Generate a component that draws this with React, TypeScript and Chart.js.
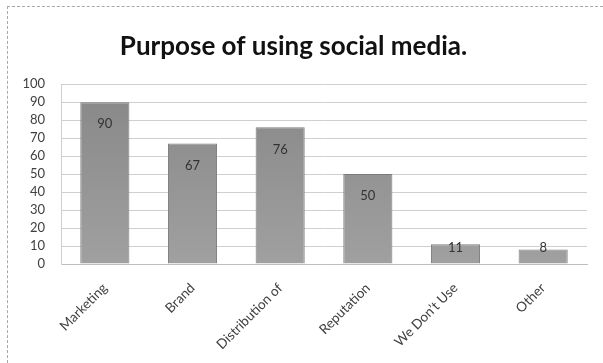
import React, { useEffect, useRef } from "react";
import { Chart, registerables } from "chart.js";

Chart.register(...registerables);

const categories = ["Marketing", "Brand", "Distribution of", "Reputation", "We Don\u2019t Use", "Other"];
const values = [90, 67, 76, 50, 11, 8];
const yTicks = [0, 10, 20, 30, 40, 50, 60, 70, 80, 90, 100];
const titleText = "Purpose of using social media.";

const FONT = "Lato, 'Open Sans', sans-serif";

const labelPlugin = {
  id: "insideEndLabels",
  afterDatasetsDraw(chart: any) {
    const ctx = chart.ctx;
    const meta = chart.getDatasetMeta(0);
    ctx.save();
    ctx.font = `13px ${FONT}`;
    ctx.fillStyle = "#333";
    ctx.textAlign = "center";
    ctx.textBaseline = "middle";
    meta.data.forEach((bar: any, i: number) => {
      const y = Math.min(bar.y + 22, bar.base - 16);
      ctx.fillText(String(values[i]), bar.x, y);
    });
    ctx.restore();
  },
};

export default function App() {
  const ref = useRef<HTMLCanvasElement>(null);
  useEffect(() => {
    document.body.style.margin = "0";
    const chart = new Chart(ref.current!, {
      type: "bar",
      data: {
        labels: categories,
        datasets: [
          {
            data: values,
            backgroundColor: (c: any) => {
              const area = c.chart.chartArea;
              if (!area) return "#8f8f8f";
              const g = c.chart.ctx.createLinearGradient(0, area.top, 0, area.bottom);
              g.addColorStop(0, "#878787");
              g.addColorStop(1, "#a0a0a0");
              return g;
            },
            borderColor: "#7c7c7c",
            borderWidth: 1,
            categoryPercentage: 1,
            barPercentage: 0.56,
          },
        ],
      },
      options: {
        animation: false,
        responsive: false,
        maintainAspectRatio: false,
        layout: { padding: { left: 0, right: 16, top: 0, bottom: 0 } },
        plugins: {
          legend: { display: false },
          tooltip: { enabled: false },
          title: {
            display: true,
            text: titleText,
            color: "#111",
            font: { family: FONT, size: 26, weight: "bold", lineHeight: 1.2 },
            padding: { top: 31, bottom: 22 },
          },
        },
        scales: {
          x: {
            grid: { display: false, drawTicks: false },
            border: { display: true, color: "#bdbdbd", width: 1 },
            ticks: {
              color: "#404040",
              font: { family: FONT, size: 13.5 },
              maxRotation: 45,
              minRotation: 45,
              padding: 16,
            },
            afterFit: (s: any) => {
              s.height = 99;
            },
          },
          y: {
            min: 0,
            max: 100,
            afterBuildTicks: (s: any) => {
              s.ticks = yTicks.map((v) => ({ value: v }));
            },
            grid: { color: "#cfcfcf", lineWidth: 1, drawTicks: false },
            border: { display: true, color: "#cfcfcf" },
            ticks: {
              autoSkip: false,
              color: "#404040",
              font: { family: FONT, size: 13 },
              padding: 16,
            },
            afterFit: (s: any) => {
              s.width = 61;
            },
          },
        },
      },
      plugins: [labelPlugin],
    });
    return () => chart.destroy();
  }, []);

  return (
    <div style={{ position: "relative", width: 603, height: 363, background: "#fff", overflow: "hidden" }}>
      <div
        style={{
          position: "absolute",
          left: 7,
          top: 6,
          right: -10,
          bottom: -10,
          borderLeft: "1px dashed #a8a8a8",
          borderTop: "1px dashed #a8a8a8",
        }}
      />
      <canvas ref={ref} width={603} height={363} style={{ position: "absolute", left: 0, top: 0, width: 603, height: 363 }} />
    </div>
  );
}
